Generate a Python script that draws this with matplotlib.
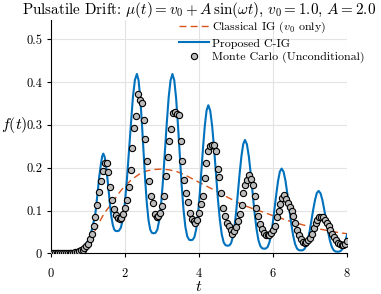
import numpy as np
import matplotlib
matplotlib.use("Agg")
import matplotlib.pyplot as plt

plt.rcParams['font.family'] = 'serif'
plt.rcParams['font.serif'] = ['cmr10']
plt.rcParams['mathtext.fontset'] = 'cm'
plt.rcParams['axes.formatter.use_mathtext'] = True

# Classical IG (v0 only)
t_ig = [0.0, 0.6, 0.8, 0.9, 1.0, 1.1, 1.2, 1.3, 1.4, 1.5, 1.6, 1.7, 1.8, 1.9, 2.0,
        2.2, 2.4, 2.6, 2.8, 3.0, 3.2, 3.4, 3.6, 3.8, 4.0, 4.25, 4.5, 4.75, 5.0,
        5.25, 5.5, 5.75, 6.0, 6.25, 6.5, 6.75, 7.0, 7.25, 7.5, 7.75, 8.0]
f_ig = [0.0, 0.0, 0.003, 0.010, 0.022, 0.038, 0.055, 0.072, 0.088, 0.101, 0.112,
        0.124, 0.137, 0.148, 0.158, 0.174, 0.186, 0.193, 0.196, 0.197, 0.195,
        0.191, 0.184, 0.175, 0.166, 0.155, 0.144, 0.132, 0.121, 0.111, 0.103,
        0.096, 0.088, 0.081, 0.074, 0.068, 0.062, 0.057, 0.053, 0.049, 0.046]

# Proposed C-IG
t_cig = [0.0, 0.3, 0.5, 0.6, 0.7, 0.8, 0.9, 1.0, 1.05, 1.1, 1.15, 1.2, 1.25, 1.3, 1.35, 1.38, 1.41,
         1.447, 1.484, 1.521, 1.558, 1.595, 1.632, 1.669, 1.706, 1.743, 1.78,
         1.834, 1.888, 1.942, 1.996, 2.05, 2.104, 2.158, 2.212, 2.266, 2.32,
         2.365, 2.41, 2.455, 2.50, 2.545, 2.59, 2.635, 2.68, 2.725, 2.77,
         2.821, 2.872, 2.923, 2.974, 3.025, 3.076, 3.127, 3.178, 3.229, 3.28,
         3.33, 3.38, 3.43, 3.48, 3.53, 3.58, 3.63, 3.68, 3.73, 3.78,
         3.827, 3.874, 3.921, 3.968, 4.015, 4.062, 4.109, 4.156, 4.203, 4.25,
         4.302, 4.354, 4.406, 4.458, 4.51, 4.562, 4.614, 4.666, 4.718, 4.77,
         4.817, 4.864, 4.911, 4.958, 5.005, 5.052, 5.099, 5.146, 5.193, 5.24,
         5.292, 5.344, 5.396, 5.448, 5.50, 5.552, 5.604, 5.656, 5.708, 5.76,
         5.807, 5.854, 5.901, 5.948, 5.995, 6.042, 6.089, 6.136, 6.183, 6.23,
         6.282, 6.334, 6.386, 6.438, 6.49, 6.542, 6.594, 6.646, 6.698, 6.75,
         6.798, 6.846, 6.894, 6.942, 6.99, 7.038, 7.086, 7.134, 7.182, 7.23,
         7.281, 7.332, 7.383, 7.434, 7.485, 7.536, 7.587, 7.638, 7.689, 7.74,
         7.788, 7.836, 7.884, 7.932, 7.98, 8.0]
f_cig = [0.0, 0.0, 0.0005, 0.0015, 0.004, 0.008, 0.015, 0.030, 0.040, 0.055, 0.073, 0.095, 0.135, 0.178, 0.210, 0.226, 0.233,
         0.226, 0.206, 0.177, 0.144, 0.112, 0.085, 0.0665, 0.056, 0.0525, 0.052,
         0.053, 0.0604, 0.081, 0.119, 0.173, 0.238, 0.306, 0.365, 0.405, 0.419,
         0.404, 0.364, 0.304, 0.236, 0.170, 0.115, 0.077, 0.0556, 0.048, 0.047,
         0.048, 0.0556, 0.077, 0.115, 0.170, 0.236, 0.304, 0.364, 0.404, 0.419,
         0.404, 0.362, 0.299, 0.228, 0.159, 0.102, 0.062, 0.040, 0.032, 0.031,
         0.032, 0.038, 0.056, 0.089, 0.135, 0.191, 0.249, 0.299, 0.334, 0.346,
         0.333, 0.297, 0.245, 0.185, 0.126, 0.078, 0.044, 0.0255, 0.019, 0.018,
         0.0187, 0.0237, 0.038, 0.063, 0.0995, 0.1435, 0.189, 0.228, 0.255, 0.265,
         0.255, 0.227, 0.1865, 0.140, 0.095, 0.0575, 0.031, 0.017, 0.0118, 0.011,
         0.0116, 0.0153, 0.026, 0.045, 0.0727, 0.106, 0.140, 0.170, 0.191, 0.198,
         0.191, 0.170, 0.139, 0.104, 0.070, 0.042, 0.0223, 0.0114, 0.0076, 0.007,
         0.0074, 0.0102, 0.018, 0.0324, 0.0529, 0.0776, 0.103, 0.125, 0.141, 0.146,
         0.1405, 0.125, 0.102, 0.076, 0.051, 0.030, 0.0154, 0.0073, 0.0044, 0.004,
         0.0043, 0.0063, 0.0121, 0.0225, 0.0373, 0.044]

# Monte Carlo histogram, one value every 0.05 from t = 0 to 8
f_mc = [0.000, 0.000, 0.000, 0.000, 0.000, 0.000, 0.000, 0.000, 0.001, 0.001,
        0.001, 0.002, 0.002, 0.003, 0.004, 0.005, 0.007, 0.009, 0.012, 0.017,
        0.023, 0.033, 0.046, 0.063, 0.085, 0.112, 0.143, 0.170, 0.192, 0.210,
        0.212, 0.190, 0.155, 0.125, 0.103, 0.090, 0.082, 0.080, 0.083, 0.092,
        0.105, 0.125, 0.155, 0.195, 0.245, 0.293, 0.322, 0.372, 0.359, 0.351,
        0.312, 0.267, 0.215, 0.170, 0.133, 0.118, 0.093, 0.085, 0.088, 0.095,
        0.110, 0.135, 0.180, 0.225, 0.262, 0.290, 0.329, 0.330, 0.326, 0.323,
        0.262, 0.215, 0.172, 0.142, 0.120, 0.095, 0.080, 0.075, 0.071, 0.078,
        0.095, 0.115, 0.135, 0.175, 0.210, 0.238, 0.250, 0.254, 0.252, 0.240,
        0.198, 0.178, 0.140, 0.105, 0.087, 0.072, 0.063, 0.054, 0.046, 0.052,
        0.062, 0.076, 0.092, 0.112, 0.142, 0.160, 0.172, 0.184, 0.174, 0.160,
        0.135, 0.105, 0.088, 0.068, 0.056, 0.047, 0.044, 0.043, 0.042, 0.047,
        0.055, 0.065, 0.084, 0.098, 0.116, 0.130, 0.137, 0.128, 0.118, 0.108,
        0.100, 0.087, 0.070, 0.054, 0.042, 0.033, 0.027, 0.025, 0.026, 0.031,
        0.037, 0.046, 0.060, 0.070, 0.078, 0.084, 0.086, 0.084, 0.079, 0.071,
        0.063, 0.054, 0.046, 0.038, 0.031, 0.025, 0.021, 0.019, 0.020, 0.023,
        0.028]
t_mc = np.arange(len(f_mc)) * 0.05

fig = plt.figure(figsize=(3.81, 2.94), dpi=100)
ax = fig.add_axes([0.134, 0.138, 0.777, 0.794])

ax.plot(t_ig, f_ig, color='#D95319', lw=1.0, ls=(0, (5, 3)),
        label=r'Classical IG ($v_0$ only)', zorder=2)
ax.plot(t_cig, f_cig, color='#0072BD', lw=1.5, label='Proposed C-IG', zorder=3)
ax.plot(t_mc, f_mc, ls='none', marker='o', ms=4.5, mfc='#bdbdbd', mec='black',
        mew=0.8, label='Monte Carlo (Unconditional)', zorder=4)

ax.set_xlim(0, 8)
ax.set_ylim(0, 0.545)
ax.set_xticks([0, 2, 4, 6, 8])
ax.set_yticks([0, 0.1, 0.2, 0.3, 0.4, 0.5])
ax.set_yticklabels(['0', '0.1', '0.2', '0.3', '0.4', '0.5'])
ax.grid(True, color='#e3e3e3', lw=0.8)
ax.set_axisbelow(True)
for s in ['top', 'right']:
    ax.spines[s].set_visible(False)
ax.tick_params(direction='out', length=3, width=0.8, labelsize=9)
ax.tick_params(axis='x', pad=7)

ax.set_xlabel(r'$t$', fontsize=11.5, labelpad=0)
ax.set_ylabel(r'$f(t)$', fontsize=11.5, rotation=0, va='center', ha='center')
ax.yaxis.set_label_coords(-0.125, 0.55)
ax.set_title(r'Pulsatile Drift: $\mu(t) = v_0 + A\,\sin(\omega t)$, $v_0 = 1.0$, $A = 2.0$',
             fontsize=10.9, pad=4)

ax.legend(loc='upper left', bbox_to_anchor=(0.415, 1.02), frameon=False,
          fontsize=8.6, handlelength=2.5, handletextpad=0.25,
          labelspacing=0.24, numpoints=1, borderaxespad=0)

fig.savefig('out.png', dpi=100)
